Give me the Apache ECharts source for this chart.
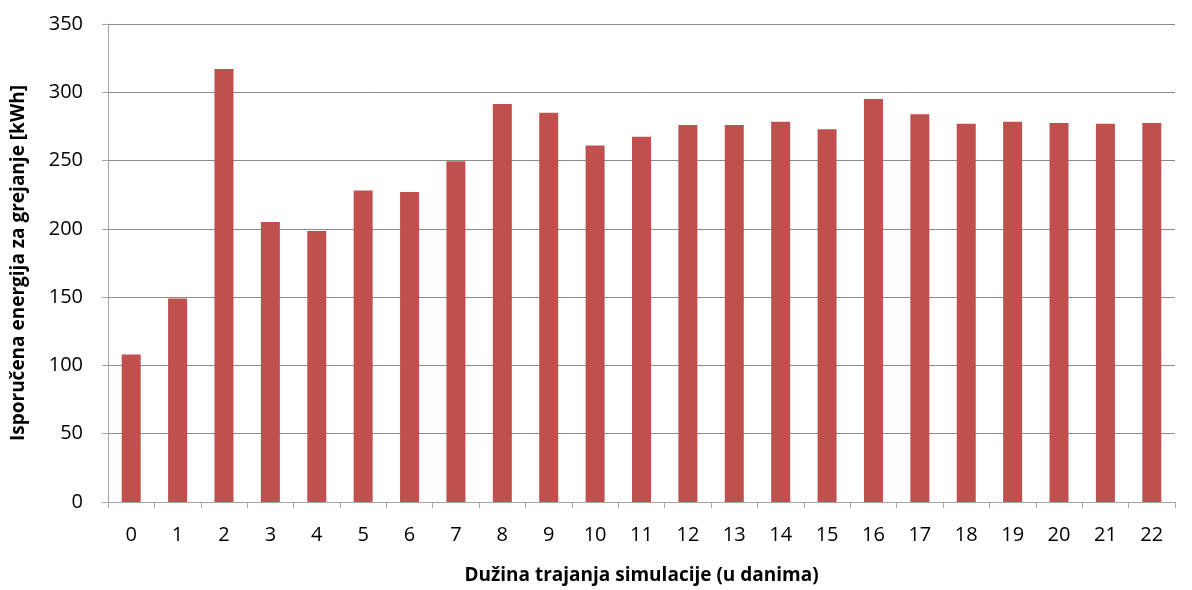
<!DOCTYPE html>
<html>
<head>
<meta charset="utf-8">
<script src="https://cdn.jsdelivr.net/npm/echarts@6/dist/echarts.min.js"></script>
<style>
html,body{margin:0;padding:0;background:#fff;}
#chart{width:1192px;height:590px;}
</style>
</head>
<body>
<div id="chart"></div>
<script>
const categories = ['0','1','2','3','4','5','6','7','8','9','10','11','12','13','14','15','16','17','18','19','20','21','22'];
const values = [108, 149, 317, 205, 198.5, 228, 227, 249.5, 291.5, 285, 261, 267.5, 276, 276, 278.5, 273, 295, 284, 277, 278.5, 277.5, 277, 277.5];
const yTicks = [0, 50, 100, 150, 200, 250, 300, 350];
const xTitle = 'Dužina trajanja simulacije (u danima)';
const yTitle = 'Isporučena energija za grejanje [kWh]';

const chart = echarts.init(document.getElementById('chart'));
const font = '"Open Sans", "Noto Sans", sans-serif';
chart.setOption({
  animation: false,
  backgroundColor: '#ffffff',
  grid: {left: 108, right: 17, top: 24, bottom: 86, containLabel: false},
  xAxis: {
    type: 'category',
    data: categories,
    boundaryGap: true,
    name: xTitle,
    nameLocation: 'middle',
    nameGap: 64,
    nameTextStyle: {fontFamily: font, fontSize: 19, fontWeight: 'bold', color: '#000'},
    axisLine: {lineStyle: {color: '#a6a6a6', width: 1}},
    axisTick: {show: true, length: 6, lineStyle: {color: '#a6a6a6'}, alignWithLabel: false},
    axisLabel: {fontFamily: font, fontSize: 20, color: '#000', margin: 23}
  },
  yAxis: {
    type: 'value',
    min: yTicks[0],
    max: yTicks[yTicks.length - 1],
    interval: 50,
    name: yTitle,
    nameLocation: 'middle',
    nameGap: 80,
    nameRotate: 90,
    nameTextStyle: {fontFamily: font, fontSize: 19, fontWeight: 'bold', color: '#000'},
    axisLine: {show: true, lineStyle: {color: '#a6a6a6', width: 1}},
    axisTick: {show: true, length: 6, lineStyle: {color: '#a6a6a6'}},
    axisLabel: {fontFamily: font, fontSize: 20, color: '#000', margin: 25},
    splitLine: {show: true, lineStyle: {color: '#8c8c8c', width: 1}}
  },
  series: [{
    type: 'bar',
    data: values,
    barWidth: 19,
    itemStyle: {color: '#c0504d'}
  }]
});
</script>
</body>
</html>
